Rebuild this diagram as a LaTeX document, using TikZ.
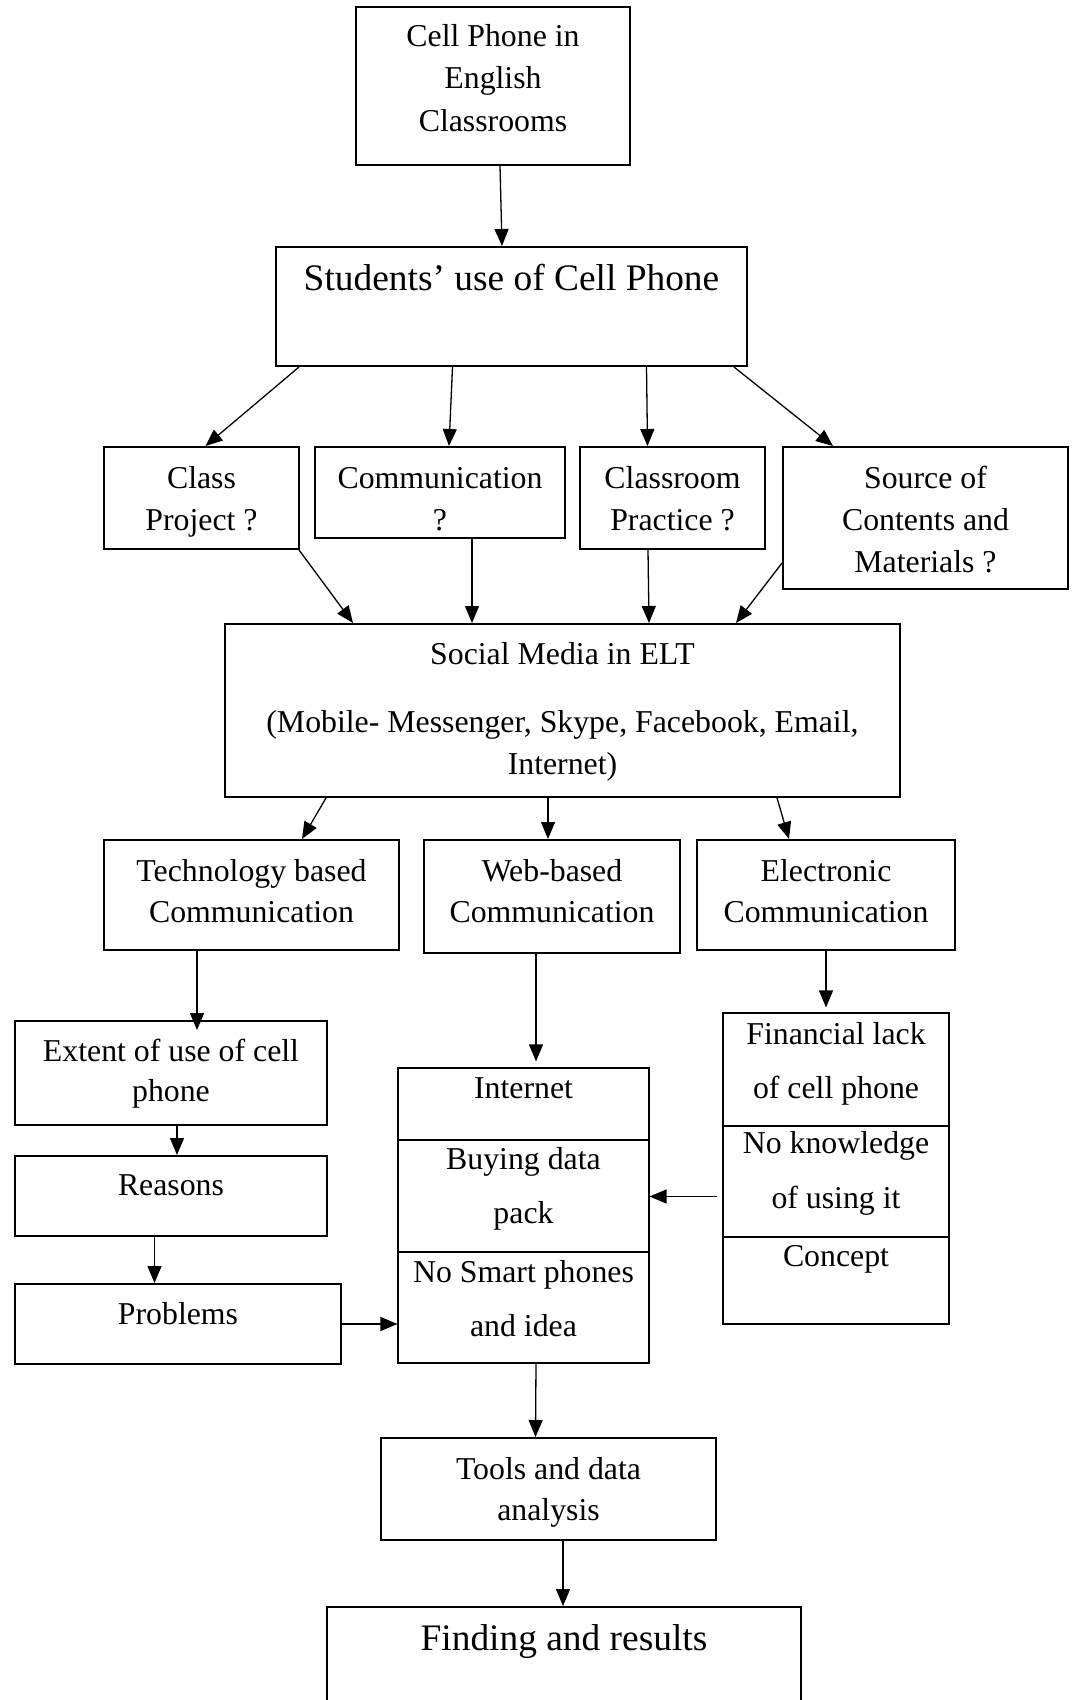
\documentclass[tikz,border=0pt]{standalone}
\usepackage{fontspec}
\setmainfont{Liberation Serif}
\usetikzlibrary{arrows.meta,calc,fit}
\begin{document}
\begin{tikzpicture}[x=0.5pt,y=-0.5pt,
  box/.style={draw,line width=1pt,inner sep=0pt},
  sbox/.style={draw,line width=0.55pt,inner sep=0pt},
  divline/.style={line width=0.55pt},
  txt/.style={font=\fontsize{15.9}{19}\selectfont,inner sep=0pt,anchor=base},
  big/.style={font=\fontsize{18.7}{22}\selectfont,inner sep=0pt,anchor=base},
  arr/.style={line width=0.65pt,-{Triangle[length=8.5pt,width=7pt]}}]
\clip (0,0) rectangle (1076,1700);

% boxes
\node[box,fit={(356,7) (630,165)}] (b1) {};
\node[box,fit={(276,247) (747,366)}] (b2) {};
\node[box,fit={(104,447) (299,549)}] (cp) {};
\node[box,fit={(315,447) (565,538)}] (cm) {};
\node[box,fit={(580,447) (765,549)}] (cr) {};
\node[box,fit={(783,447) (1068,589)}] (sc) {};
\node[box,fit={(225,624) (900,797)}] (sm) {};
\node[box,fit={(104,840) (399,950)}] (tb) {};
\node[box,fit={(424,840) (680,953)}] (wb) {};
\node[box,fit={(697,840) (955,950)}] (ec) {};
\node[box,fit={(15,1021) (327,1125)}] (ex) {};
\node[box,fit={(15,1156) (327,1236)}] (re) {};
\node[box,fit={(15,1284) (341,1364)}] (pr) {};
\node[sbox,fit={(398,1068) (649,1363)}] (mid) {};
\node[sbox,fit={(723,1013) (949,1324)}] (rt) {};
\node[box,fit={(381,1438) (716,1540)}] (tl) {};
\node[box,fit={(327,1607) (801,1740)}] (fd) {};

% dividers
\draw[divline] (mid.west |- 0,1140) -- (mid.east |- 0,1140);
\draw[divline] (mid.west |- 0,1252) -- (mid.east |- 0,1252);
\draw[divline] (rt.west |- 0,1126) -- (rt.east |- 0,1126);
\draw[divline] (rt.west |- 0,1237) -- (rt.east |- 0,1237);

% texts
\node[txt] (t1a) at (493,47) {Cell Phone in};
\node[txt] (t1b) at (493,89) {English};
\node[txt] (t1c) at (493,132) {Classrooms};
\node[big] (t2) at (511.5,291) {Students’ use of Cell Phone};
\node[txt] (tcpa) at (201.5,488) {Class};
\node[txt] (tcpb) at (201.5,530) {Project ?};
\node[txt] (tcma) at (440,488) {Communication};
\node[txt] (tcmb) at (440,530) {?};
\node[txt] (tcra) at (672.5,488) {Classroom};
\node[txt] (tcrb) at (672.5,530) {Practice ?};
\node[txt] (tsca) at (925.5,488) {Source of};
\node[txt] (tscb) at (925.5,530) {Contents and};
\node[txt] (tscc) at (925.5,572) {Materials ?};
\node[txt] (tsma) at (562.5,664) {Social Media in ELT};
\node[txt] (tsmb) at (562.5,732.5) {(Mobile- Messenger, Skype, Facebook, Email,};
\node[txt] (tsmc) at (562.5,774) {Internet)};
\node[txt] (ttba) at (251.5,881) {Technology based};
\node[txt] (ttbb) at (251.5,922) {Communication};
\node[txt] (twba) at (552,881) {Web-based};
\node[txt] (twbb) at (552,922) {Communication};
\node[txt] (teca) at (826,881) {Electronic};
\node[txt] (tecb) at (826,922) {Communication};
\node[txt] (texa) at (171,1061.5) {Extent of use of cell};
\node[txt] (texb) at (171,1101.5) {phone};
\node[txt] (tre) at (171,1195) {Reasons};
\node[txt] (tpr) at (178,1324) {Problems};
\node[txt] (tma) at (523.5,1098) {Internet};
\node[txt] (tmb) at (523.5,1169) {Buying data};
\node[txt] (tmc) at (523.5,1223) {pack};
\node[txt] (tmd) at (523.5,1282) {No Smart phones};
\node[txt] (tme) at (523.5,1336.5) {and idea};
\node[txt] (tra) at (836,1044) {Financial lack};
\node[txt] (trb) at (836,1098) {of cell phone};
\node[txt] (trc) at (836,1153.5) {No knowledge};
\node[txt] (trd) at (836,1208.5) {of using it};
\node[txt] (tre2) at (836,1266.5) {Concept};
\node[txt] (ttla) at (548.5,1479) {Tools and data};
\node[txt] (ttlb) at (548.5,1520.5) {analysis};
\node[big] (tfd) at (564,1650) {Finding and results};

% connectors
\draw[arr] ($(b1.south)+(7,0)$) -- ($(b2.north)+(-9.5,0)$);
\draw[arr] ($(b2.south west)+(24,0)$) -- ($(cp.north)+(4,0)$);
\draw[arr] ($(b2.south)+(-59,0)$) -- ($(cm.north)+(9,0)$);
\draw[arr] ($(b2.south)+(135,0)$) -- ($(cr.north)+(-25,0)$);
\draw[arr] ($(b2.south east)+(-14,0)$) -- ($(sc.north west)+(51,0)$);
\draw[arr] ($(cp.south east)+(-1,0)$) -- ($(sm.north west)+(129,0)$);
\draw[arr] ($(cm.south)+(32,0)$) -- ($(sm.north)+(-90.5,0)$);
\draw[arr] ($(cr.south)+(-24.5,0)$) -- ($(sm.north)+(86.5,0)$);
\draw[arr] ($(sc.north west)+(0,117)$) -- ($(sm.north east)+(-165,0)$);
\draw[arr] ($(sm.south west)+(102,0)$) -- ($(tb.north)+(50.5,0)$);
\draw[arr] ($(sm.south)+(-14.5,0)$) -- ($(wb.north)+(-4,0)$);
\draw[arr] ($(sm.south east)+(-124,0)$) -- ($(ec.north)+(-37,0)$);
\draw[arr] ($(tb.south)+(-54.5,0)$) -- ($(ex.north)+(26,10)$);
\draw[arr] ($(ex.south)+(6,0)$) -- ($(re.north)+(6,0)$);
\draw[arr] ($(re.south)+(-16.5,0)$) -- ($(pr.north)+(-23.5,0)$);
\draw[arr] (pr.east) -- (pr.east -| mid.west);
\draw[arr] ($(wb.south)+(-16,0)$) -- ($(mid.north)+(12.5,-6)$);
\draw[arr] ($(ec.south)+(0,0)$) -- ($(rt.north)+(-10,-5)$);
\draw[arr] ($(rt.west)+(-5,28)$) coordinate (rta) -- (rta -| mid.east);
\draw[arr] ($(mid.south)+(12.5,0)$) -- ($(tl.north)+(-13,0)$);
\draw[arr] ($(tl.south)+(14.5,0)$) -- ($(fd.north)+(-1,0)$);
\end{tikzpicture}
\end{document}
